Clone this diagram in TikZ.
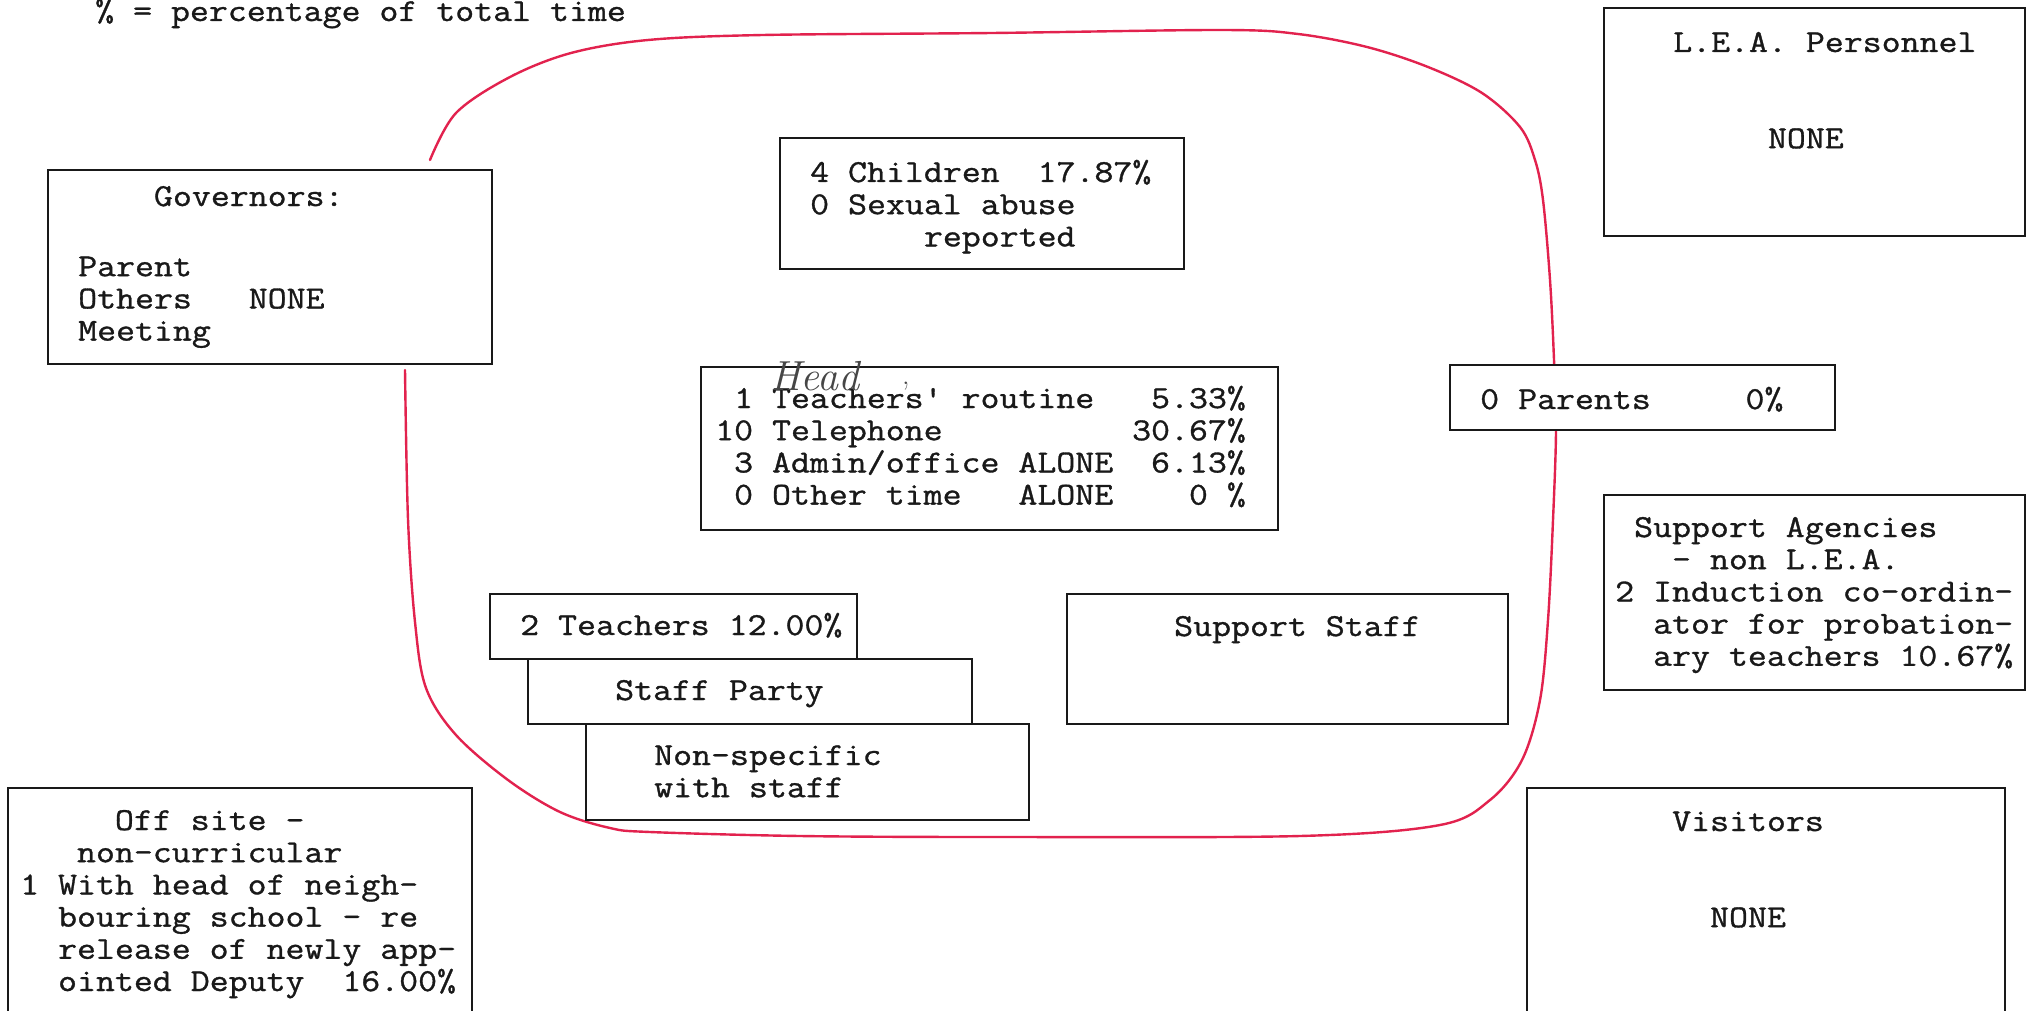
\documentclass[tikz,border=0pt]{standalone}
\usepackage{fontspec}
\newfontfamily\typew{lmmono12-regular.otf}[FakeStretch=1.15,FakeBold=1.0]
\definecolor{redpen}{RGB}{226,34,78}
\definecolor{ink}{RGB}{25,25,25}
\definecolor{boxc}{RGB}{25,25,25}
\definecolor{pencil}{RGB}{70,70,70}
\newlength\cw
\newcommand\cour{\typew\fontsize{32}{32.2}\selectfont\settowidth{\cw}{x}}
\newcommand\sk[1]{\hspace*{#1\cw}}
\newcommand\spc{\hspace*{\cw}}
\begin{document}
\begin{tikzpicture}[x=1pt,y=-1pt,
  box/.style={draw=boxc, line width=2.3pt, fill=white, inner sep=0pt, anchor=north west},
  txt/.style={anchor=base west, inner sep=0pt, text width=1400pt, align=left, font=\cour, text=ink},
  pen/.style={draw=redpen, line width=2.4pt, line cap=round, line join=round},
  hand/.style={anchor=base west, inner sep=0pt, text=pencil}]
\useasboundingbox (0,0) rectangle (2033,1011);
\fill[white] (0,0) rectangle (2033,1011);
\clip (0,0) rectangle (2033,1011);

% red hand-drawn boundary
\draw[pen] plot[smooth, tension=0.55] coordinates {
 (430,160) (456,113) (510,77) (571,53) (648,40) (763,35) (992,33) (1222,30)
 (1298,34) (1367,47) (1428,67) (1482,93) (1520,127) (1535,160) (1543,200)
 (1550,280) (1554,360) (1556,430) (1553,520) (1548,620) (1540,700) (1522,760)
 (1490,800) (1440,825) (1300,836) (1000,837) (800,836) (650,832) (610,828)
 (560,812) (508,780) (456,735) (426,688) (415,622) (408,519) (405,370)};

% boxes
\node[box, minimum width=444pt, minimum height=194pt] (gov) at (47,169) {};
\node[box, minimum width=404pt, minimum height=131pt] (child) at (779,137) {};
\node[box, minimum width=577pt, minimum height=163pt] (headb) at (700,366) {};
\node[box, minimum width=385pt, minimum height=65pt] (par) at (1449,364) {};
\node[box, minimum width=421pt, minimum height=228pt] (lea) at (1603,7) {};
\node[box, minimum width=421pt, minimum height=195pt] (supag) at (1603,494) {};
\node[box, minimum width=367pt, minimum height=65pt] (teach) at (489,593) {};
\node[box, minimum width=444pt, minimum height=65pt] (party) at (527,658) {};
\node[box, minimum width=443pt, minimum height=96pt] (nonsp) at (585,723) {};
\node[box, minimum width=441pt, minimum height=130pt] (supst) at (1066,593) {};
\node[box, minimum width=464pt, minimum height=260pt] (off) at (7,787) {};
\node[box, minimum width=478pt, minimum height=260pt] (vis) at (1526,787) {};

% texts
\node[txt] (title) at (95,21) {\%\spc=\spc percentage\spc of\spc total\spc time};
\node[txt] (govt) at (78,206) {\sk{4}Governors:\\[38pt]Parent\\Others\sk{3}NONE\\Meeting};
\node[txt] (childt) at (810,182) {4\spc Children\sk{2}17.87\%\\0\spc Sexual\spc abuse\\\sk{6}reported};
\node[txt] (headt) at (715,408) {\sk{1}1\spc Teachers'\spc routine\sk{3}5.33\%\\10\spc Telephone\sk{10}30.67\%\\\sk{1}3\spc Admin/office\spc ALONE\sk{2}6.13\%\\\sk{1}0\spc Other\spc time\sk{3}ALONE\sk{4}0\spc\%};
\node[txt] (part) at (1480,409) {0\spc Parents\sk{5}0\%};
\node[txt] (leat) at (1673,52) {L.E.A.\spc Personnel\\[64pt]\sk{5}NONE};
\node[txt] (supagt) at (1615,537) {\sk{1}Support\spc Agencies\\\sk{3}-\spc non\spc L.E.A.\\2\spc Induction\spc co-ordin-\\\sk{2}ator\spc for\spc probation-\\\sk{2}ary\spc teachers\spc 10.67\%};
\node[txt] (teacht) at (520,635) {2\spc Teachers\spc 12.00\%};
\node[txt] (partyt) at (615,700) {Staff\spc Party};
\node[txt] (nonspt) at (654,765) {Non-specific\\with\spc staff};
\node[txt] (supstt) at (1174,636) {Support\spc Staff};
\node[txt] (offt) at (20,830) {\sk{5}Off\spc site\spc -\\\sk{3}non-curricular\\1\spc With\spc head\spc of\spc neigh-\\\sk{2}bouring\spc school\spc -\spc re\\\sk{2}release\spc of\spc newly\spc app-\\\sk{2}ointed\spc Deputy\sk{2}16.00\%};
\node[txt] (vist) at (1672,831) {Visitors\\[64pt]\sk{2}NONE};

% pencil annotation
\node[hand, font=\itshape\fontsize{42}{42}\selectfont] (headnote) at (770,390) {Head};
\node[hand, font=\fontsize{30}{30}\selectfont] (tick) at (902,384) {,};
\end{tikzpicture}
\end{document}
